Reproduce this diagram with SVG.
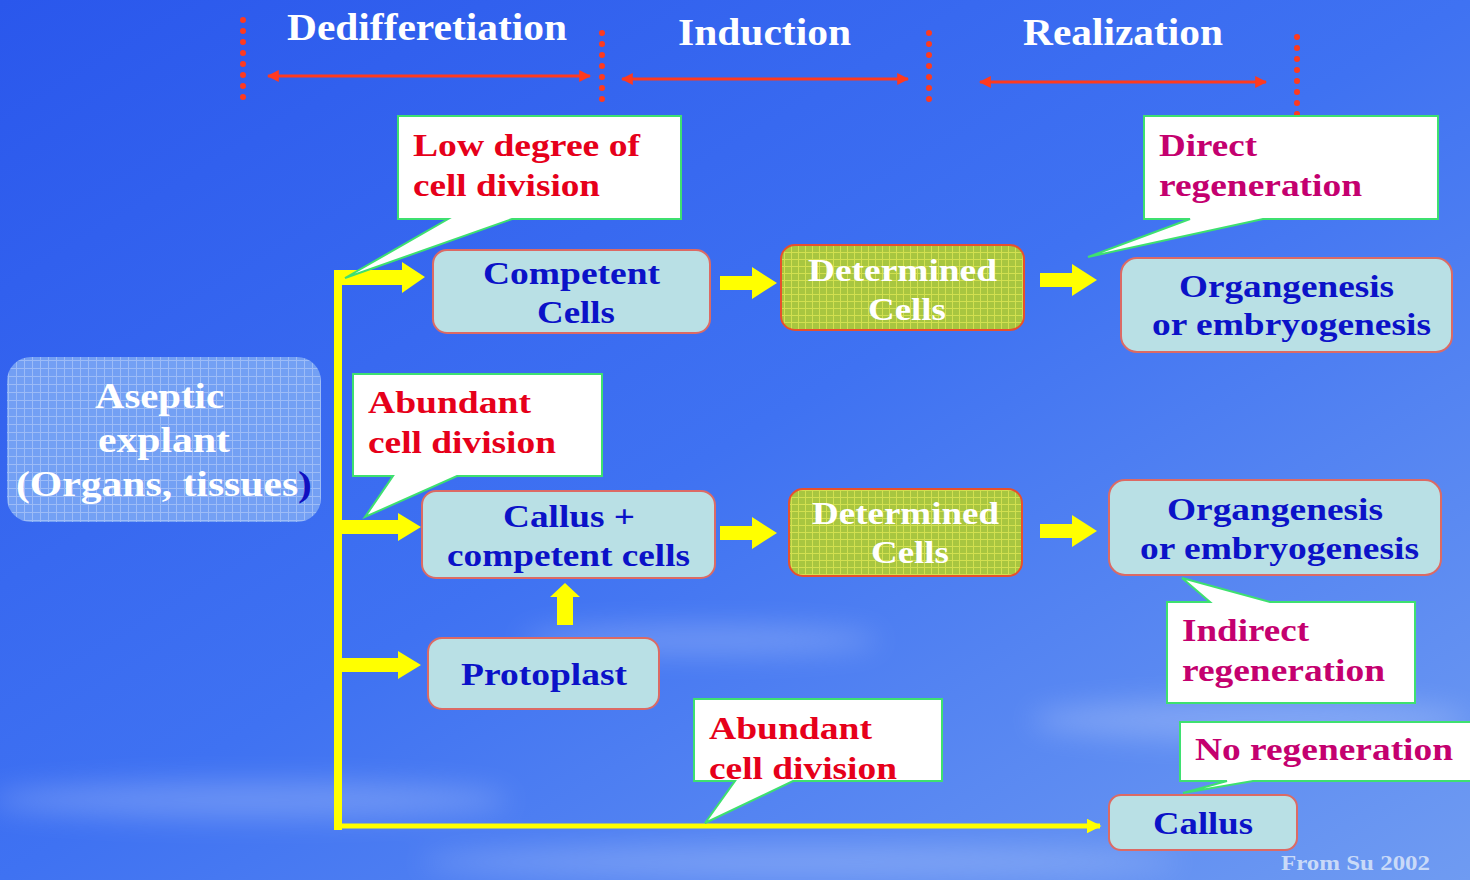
<svg xmlns="http://www.w3.org/2000/svg" width="1470" height="880" viewBox="0 0 1470 880">
<defs>
<linearGradient id="bg" x1="0" y1="0" x2="1" y2="1">
<stop offset="0" stop-color="#2a57ec"/>
<stop offset="0.5" stop-color="#3f72f2"/>
<stop offset="1" stop-color="#6f9bf2"/>
</linearGradient>
<filter id="blur" x="-50%" y="-50%" width="200%" height="200%"><feGaussianBlur stdDeviation="14"/></filter>
<pattern id="gridG" width="7" height="7" patternUnits="userSpaceOnUse">
<rect width="7" height="7" fill="#a8c640"/>
<path d="M0,0.5H7M0.5,0V7" stroke="#eef25a" stroke-width="1" opacity="0.6"/>
</pattern>
<pattern id="gridB" width="8" height="8" patternUnits="userSpaceOnUse">
<rect width="8" height="8" fill="#7aa6f4"/>
<path d="M0,0.5H8M0.5,0V8" stroke="#ffffff" stroke-width="1" opacity="0.35"/>
</pattern>
<marker id="rh" viewBox="0 0 10 10" refX="9" refY="5" markerWidth="4" markerHeight="4" orient="auto-start-reverse">
<path d="M0,0L10,5L0,10Z" fill="#ff3a1e"/>
</marker>
<marker id="yh" viewBox="0 0 10 10" refX="9" refY="5" markerWidth="3" markerHeight="3" orient="auto">
<path d="M0,0L10,5L0,10Z" fill="#ffff00"/>
</marker>
<style>
text{font-family:"Liberation Serif","Times New Roman",serif;font-weight:bold}
.hdr{fill:#ffffff;font-size:37px}
.nt{fill:#0b12c8;font-size:32px}
.wt{fill:#ffffff;font-size:32px}
.red{fill:#e6001a;font-size:32px}
.mag{fill:#c4006f;font-size:32px}
.node{fill:#b9e0e5;stroke:#dc6a64;stroke-width:2}
.det{fill:url(#gridG);stroke:#e8502c;stroke-width:2}
.call{fill:#ffffff;stroke:#3ee070;stroke-width:2}
.dots{stroke:#ff3a1e;stroke-width:6;stroke-linecap:round;stroke-dasharray:0 11;fill:none}
.rarr{stroke:#ff3a1e;stroke-width:3;fill:none}
.yb{fill:#ffff00}
</style>
</defs>

<rect width="1470" height="880" fill="url(#bg)"/>
<g filter="url(#blur)" opacity="0.22" fill="#ffffff">
<ellipse cx="250" cy="800" rx="260" ry="18"/>
<ellipse cx="800" cy="862" rx="380" ry="16"/>
<ellipse cx="1250" cy="720" rx="220" ry="20"/>
<ellipse cx="700" cy="640" rx="180" ry="14"/>
</g>

<g id="headers">
<text class="hdr" x="287" y="40" textLength="280" lengthAdjust="spacingAndGlyphs">Dedifferetiation</text>
<text class="hdr" x="678" y="45" textLength="173" lengthAdjust="spacingAndGlyphs">Induction</text>
<text class="hdr" x="1023" y="45" textLength="200" lengthAdjust="spacingAndGlyphs">Realization</text>
<path class="dots" d="M243,20V108"/>
<path class="dots" d="M602,33V110"/>
<path class="dots" d="M929,33V110"/>
<path class="dots" d="M1297,37V115"/>
<path class="rarr" d="M268,76H590" marker-start="url(#rh)" marker-end="url(#rh)"/>
<path class="rarr" d="M622,79H908" marker-start="url(#rh)" marker-end="url(#rh)"/>
<path class="rarr" d="M980,82H1266" marker-start="url(#rh)" marker-end="url(#rh)"/>
</g>

<g id="connectors">
<rect class="yb" x="334" y="270" width="8" height="560"/>
<path d="M338,826H1100" stroke="#ffff00" stroke-width="5" fill="none" marker-end="url(#yh)"/>
<path class="yb" d="M338,270H402V262L425,277L402,293V285H338Z"/>
<path class="yb" d="M338,520H398V513L421,527L398,541V534H338Z"/>
<path class="yb" d="M338,658H398V651L421,665L398,679V672H338Z"/>
<path class="yb" d="M720,276H752V267L777,283L752,299V290H720Z"/>
<path class="yb" d="M1040,273H1072V264L1097,280L1072,296V287H1040Z"/>
<path class="yb" d="M720,526H752V517L777,533L752,549V540H720Z"/>
<path class="yb" d="M1040,524H1072V515L1097,531L1072,547V538H1040Z"/>
<path class="yb" d="M557,625V597H550L565,583L580,597H573V625Z"/>
</g>

<g id="aseptic">
<rect x="7" y="357" width="314" height="165" rx="24" fill="url(#gridB)" opacity="0.9"/>
<text class="wt" x="95" y="408" style="font-size:35px" textLength="129" lengthAdjust="spacingAndGlyphs">Aseptic</text>
<text class="wt" x="98" y="452" style="font-size:35px" textLength="132" lengthAdjust="spacingAndGlyphs">explant</text>
<text class="wt" x="16" y="496" style="font-size:35px" textLength="296" lengthAdjust="spacingAndGlyphs">(Organs, tissues<tspan fill="#1010c0">)</tspan></text>
</g>

<g id="competent">
<rect class="node" x="433" y="250" width="277" height="83" rx="14"/>
<text class="nt" x="483" y="284" textLength="177" lengthAdjust="spacingAndGlyphs">Competent</text>
<text class="nt" x="537" y="323" textLength="78" lengthAdjust="spacingAndGlyphs">Cells</text>
</g>

<g id="determined1">
<rect class="det" x="781" y="245" width="243" height="85" rx="14"/>
<text class="wt" x="808" y="281" textLength="189" lengthAdjust="spacingAndGlyphs">Determined</text>
<text class="wt" x="868" y="320" textLength="78" lengthAdjust="spacingAndGlyphs">Cells</text>
</g>

<g id="organ1">
<rect class="node" x="1121" y="258" width="331" height="94" rx="16"/>
<text class="nt" x="1179" y="297" textLength="215" lengthAdjust="spacingAndGlyphs">Organgenesis</text>
<text class="nt" x="1152" y="335" textLength="279" lengthAdjust="spacingAndGlyphs">or embryogenesis</text>
</g>

<g id="callusplus">
<rect class="node" x="422" y="491" width="293" height="87" rx="14"/>
<text class="nt" x="503" y="527" textLength="132" lengthAdjust="spacingAndGlyphs">Callus +</text>
<text class="nt" x="447" y="566" textLength="243" lengthAdjust="spacingAndGlyphs">competent cells</text>
</g>

<g id="determined2">
<rect class="det" x="789" y="489" width="233" height="87" rx="14"/>
<text class="wt" x="812" y="524" textLength="187" lengthAdjust="spacingAndGlyphs">Determined</text>
<text class="wt" x="871" y="563" textLength="78" lengthAdjust="spacingAndGlyphs">Cells</text>
</g>

<g id="organ2">
<rect class="node" x="1109" y="480" width="332" height="95" rx="16"/>
<text class="nt" x="1167" y="520" textLength="216" lengthAdjust="spacingAndGlyphs">Organgenesis</text>
<text class="nt" x="1140" y="559" textLength="279" lengthAdjust="spacingAndGlyphs">or embryogenesis</text>
</g>

<g id="protoplast">
<rect class="node" x="428" y="638" width="231" height="71" rx="14"/>
<text class="nt" x="461" y="685" textLength="166" lengthAdjust="spacingAndGlyphs">Protoplast</text>
</g>

<g id="callus">
<rect class="node" x="1109" y="795" width="188" height="55" rx="12"/>
<text class="nt" x="1153" y="834" textLength="100" lengthAdjust="spacingAndGlyphs">Callus</text>
</g>

<g id="callout-low">
<path class="call" d="M398,116H681V219H512L345,278L448,219H398Z"/>
<text class="red" x="413" y="156" textLength="227" lengthAdjust="spacingAndGlyphs">Low degree of</text>
<text class="red" x="413" y="196" textLength="187" lengthAdjust="spacingAndGlyphs">cell division</text>
</g>

<g id="callout-direct">
<path class="call" d="M1144,116H1438V219H1263L1088,257L1190,219H1144Z"/>
<text class="mag" x="1159" y="156" textLength="98" lengthAdjust="spacingAndGlyphs">Direct</text>
<text class="mag" x="1159" y="196" textLength="203" lengthAdjust="spacingAndGlyphs">regeneration</text>
</g>

<g id="callout-abundant1">
<path class="call" d="M353,374H602V476H457L365,517L393,476H353Z"/>
<text class="red" x="368" y="413" textLength="163" lengthAdjust="spacingAndGlyphs">Abundant</text>
<text class="red" x="368" y="453" textLength="188" lengthAdjust="spacingAndGlyphs">cell division</text>
</g>

<g id="callout-indirect">
<path class="call" d="M1167,602H1210L1182,578L1270,602H1415V703H1167Z"/>
<text class="mag" x="1182" y="641" textLength="127" lengthAdjust="spacingAndGlyphs">Indirect</text>
<text class="mag" x="1182" y="681" textLength="203" lengthAdjust="spacingAndGlyphs">regeneration</text>
</g>

<g id="callout-abundant2">
<path class="call" d="M694,699H942V781H793L705,823L735,781H694Z"/>
<text class="red" x="709" y="739" textLength="163" lengthAdjust="spacingAndGlyphs">Abundant</text>
<text class="red" x="709" y="779" textLength="188" lengthAdjust="spacingAndGlyphs">cell division</text>
</g>

<g id="callout-noregen">
<path class="call" d="M1180,722H1476V781H1253L1183,793L1227,781H1180Z"/>
<text class="mag" x="1195" y="760" textLength="258" lengthAdjust="spacingAndGlyphs">No regeneration</text>
</g>

<text x="1281" y="870" style="font-size:21px;fill:#c9daf8" textLength="149" lengthAdjust="spacingAndGlyphs">From Su 2002</text>
</svg>
